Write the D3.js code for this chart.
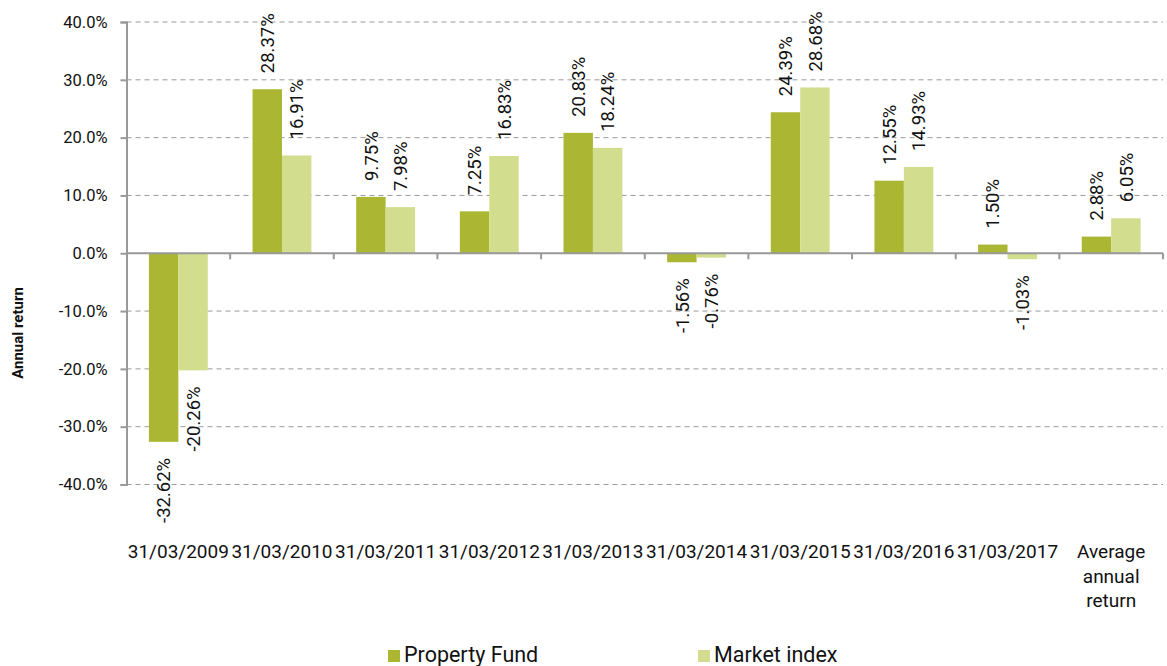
<!DOCTYPE html>
<html>
<head>
<meta charset="utf-8">
<script src="https://cdn.jsdelivr.net/npm/d3@7"></script>
<style>
  body { margin: 0; background: #fff; }
  text { font-family: Roboto, "Noto Sans", sans-serif; fill: #111; }
</style>
</head>
<body>
<svg id="chart"></svg>
<script>
// data
const categories = ["31/03/2009", "31/03/2010", "31/03/2011", "31/03/2012", "31/03/2013",
                    "31/03/2014", "31/03/2015", "31/03/2016", "31/03/2017", "Average annual return"];
const seriesNames = ["Property Fund", "Market index"];
const propertyFund = [-32.62, 28.37, 9.75, 7.25, 20.83, -1.56, 24.39, 12.55, 1.50, 2.88];
const marketIndex = [-20.26, 16.91, 7.98, 16.83, 18.24, -0.76, 28.68, 14.93, -1.03, 6.05];
const yTicks = [-40, -30, -20, -10, 0, 10, 20, 30, 40];

const colors = ["#abb733", "#d2de8e"];

let width = 1167,
    height = 666,
    svg = d3.select("#chart").attr("width", width).attr("height", height);

let plotLeft = 126.5, plotRight = 1163, plotTop = 22, plotBottom = 484.5;

let x0 = d3.scaleBand()
    .domain(categories)
    .range([plotLeft, plotRight])
    .paddingInner(0.432)
    .paddingOuter(0.216);

let x1 = d3.scaleBand()
    .domain(seriesNames)
    .range([0, x0.bandwidth()]);

let y = d3.scaleLinear()
    .domain([-40, 40])
    .range([plotBottom, plotTop]);

// gridlines
svg.append("g")
    .selectAll("line")
    .data(yTicks.filter(d => d !== 0))
    .enter()
    .append("line")
    .attr("x1", plotLeft)
    .attr("x2", plotRight)
    .attr("y1", d => y(d))
    .attr("y2", d => y(d))
    .attr("stroke", "#9a9a9a")
    .attr("stroke-width", 1)
    .style("stroke-dasharray", "5,4");

// y axis
let yAxis = svg.append("g")
    .attr("transform", "translate(" + plotLeft + ",0)")
    .call(d3.axisLeft(y).tickValues(yTicks).tickSize(6).tickPadding(13).tickFormat(d => d.toFixed(1) + "%"));
yAxis.select(".domain").attr("stroke", "#999").attr("stroke-width", 2);
yAxis.selectAll(".tick line").attr("stroke", "#999").attr("stroke-width", 2);
yAxis.selectAll(".tick text").style("font-size", "16.5px").attr("fill", "#111");

svg.append("text")
    .attr("transform", "translate(23,333) rotate(-90)")
    .attr("text-anchor", "middle")
    .style("font-size", "15px")
    .style("font-weight", "bold")
    .text("Annual return");

// bars
let rows = categories.map((c, i) => ({cat: c, vals: [propertyFund[i], marketIndex[i]]}));

let groups = svg.selectAll(".grp")
    .data(rows)
    .enter()
    .append("g")
    .attr("class", "grp")
    .attr("transform", d => "translate(" + x0(d.cat) + ",0)");

groups.selectAll("rect")
    .data(d => d.vals.map((v, j) => ({name: seriesNames[j], v: v, j: j})))
    .enter()
    .append("rect")
    .attr("x", d => x1(d.name))
    .attr("width", x1.bandwidth())
    .attr("y", d => y(Math.max(0, d.v)))
    .attr("height", d => Math.abs(y(d.v) - y(0)))
    .attr("fill", d => colors[d.j]);

// value labels
groups.selectAll(".lbl")
    .data(d => d.vals.map((v, j) => ({name: seriesNames[j], v: v, j: j})))
    .enter()
    .append("text")
    .attr("class", "lbl")
    .attr("transform", function (d) {
        let cx = x1(d.name) + x1.bandwidth() / 2;
        let cy = d.v >= 0 ? y(d.v) - 16 : y(d.v) + 16;
        return "translate(" + cx + "," + cy + ") rotate(-90)";
    })
    .attr("dy", "0.36em")
    .attr("text-anchor", d => d.v >= 0 ? "start" : "end")
    .style("font-size", "18.5px")
    .text(d => d.v.toFixed(2) + "%");

// x axis at zero
svg.append("line")
    .attr("x1", plotLeft)
    .attr("x2", plotRight)
    .attr("y1", y(0))
    .attr("y2", y(0))
    .attr("stroke", "#999")
    .attr("stroke-width", 2);

let step = x0.step();
svg.selectAll(".xtick")
    .data(d3.range(categories.length))
    .enter()
    .append("line")
    .attr("class", "xtick")
    .attr("x1", i => plotLeft + step * (i + 1))
    .attr("x2", i => plotLeft + step * (i + 1))
    .attr("y1", y(0))
    .attr("y2", y(0) + 6)
    .attr("stroke", "#999")
    .attr("stroke-width", 2);

// category labels
let catLabels = svg.selectAll(".cat")
    .data(categories)
    .enter()
    .append("text")
    .attr("class", "cat")
    .attr("x", d => x0(d) + x0.bandwidth() / 2)
    .attr("y", 558)
    .attr("text-anchor", "middle")
    .style("font-size", "19px");

catLabels.each(function (d) {
    let words = d.split(" ");
    let el = d3.select(this);
    let cx = x0(d) + x0.bandwidth() / 2;
    if (words.length > 2) {
        words.forEach((w, k) => {
            el.append("tspan").attr("x", cx).attr("dy", k === 0 ? 0 : 24.5).text(w);
        });
    } else {
        el.text(d);
    }
});

// legend
let legendX = [388, 698];
let legend = svg.selectAll(".leg")
    .data(seriesNames)
    .enter()
    .append("g")
    .attr("class", "leg")
    .attr("transform", (d, i) => "translate(" + legendX[i] + ",650)");

legend.append("rect")
    .attr("width", 12)
    .attr("height", 12)
    .attr("fill", (d, i) => colors[i]);

legend.append("text")
    .attr("x", 16)
    .attr("y", 12)
    .style("font-size", "21.5px")
    .text(d => d);
</script>
</body>
</html>
